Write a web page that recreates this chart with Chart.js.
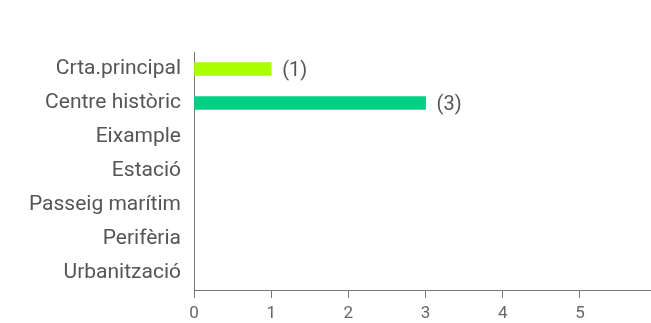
<!DOCTYPE html>
<html>
<head>
<meta charset="utf-8">
<script src="https://cdn.jsdelivr.net/npm/chart.js@4/dist/chart.umd.min.js"></script>
<style>
html,body{margin:0;padding:0;background:#fff;}
#wrap{width:651px;height:323px;position:relative;}
</style>
</head>
<body>
<div id="wrap"><canvas id="c" width="651" height="323"></canvas></div>
<script>
const categories = ["Crta.principal","Centre històric","Eixample","Estació","Passeig marítim","Perifèria","Urbanització"];
const values = [1, 3, 0, 0, 0, 0, 0];
const barColors = ["#aaff00","#00d084","#aaff00","#aaff00","#aaff00","#aaff00","#aaff00"];
const xTicks = [0,1,2,3,4,5];
const xMax = 5.92;

const valueLabels = {
  id: 'valueLabels',
  afterDatasetsDraw(chart) {
    const ctx = chart.ctx;
    const meta = chart.getDatasetMeta(0);
    ctx.save();
    ctx.font = '20px Roboto';
    ctx.fillStyle = '#555555';
    ctx.textBaseline = 'middle';
    ctx.textAlign = 'left';
    meta.data.forEach((bar, i) => {
      if (values[i] > 0) {
        ctx.fillText('(' + values[i] + ')', bar.x + 11, bar.y + 2);
      }
    });
    ctx.restore();
  }
};

new Chart(document.getElementById('c'), {
  type: 'bar',
  data: {
    labels: categories,
    datasets: [{
      data: values,
      backgroundColor: (c) => (c.raw ? barColors[c.dataIndex] : 'rgba(0,0,0,0)'),
      barThickness: 13,
      borderWidth: 0
    }]
  },
  options: {
    indexAxis: 'y',
    responsive: false,
    animation: false,
    layout: { padding: { top: 52, right: 0, left: 0, bottom: 0 } },
    plugins: { legend: { display: false }, tooltip: { enabled: false } },
    scales: {
      x: {
        type: 'linear',
        min: 0,
        max: xMax,
        afterBuildTicks(scale) { scale.ticks = xTicks.map(v => ({ value: v })); },
        afterFit(scale) { scale.height = 33; },
        grid: { drawOnChartArea: false, drawTicks: true, tickLength: 8, color: '#777777', lineWidth: 1 },
        border: { display: true, color: '#777777', width: 1 },
        ticks: { font: { family: 'Roboto', size: 17 }, color: '#666666', padding: 6, maxRotation: 0 }
      },
      y: {
        afterFit(scale) { scale.width = 194; },
        grid: { display: false, drawTicks: false },
        border: { display: true, color: '#777777', width: 1 },
        ticks: { font: { family: 'Roboto', size: 21 }, color: '#555555', padding: 13, autoSkip: false }
      }
    }
  },
  plugins: [valueLabels]
});
</script>
</body>
</html>
